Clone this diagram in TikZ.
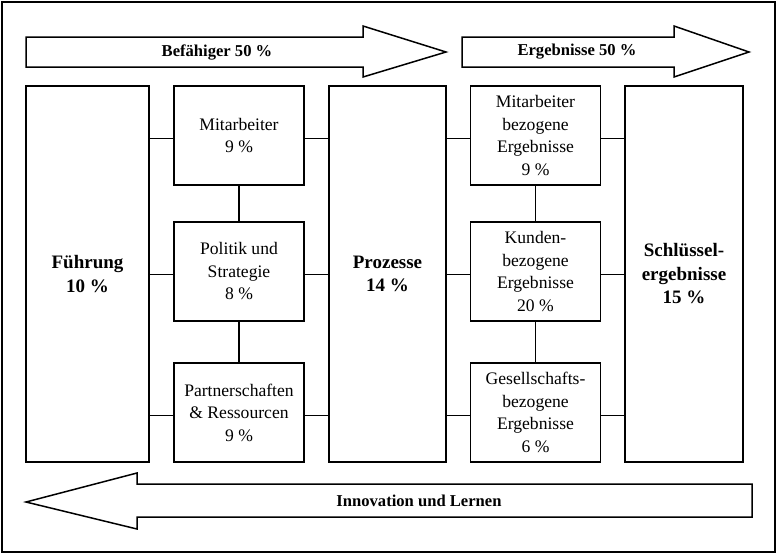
\documentclass[tikz,border=0pt]{standalone}
\usepackage{fontspec}
\setmainfont{Liberation Serif}
\tikzset{basic/.style={draw,line width=1.5pt,align=center,inner sep=2pt}}
\tikzset{crit/.style={basic,minimum width=130pt,minimum height=99pt,
                      font=\fontsize{17.6}{22.5}\selectfont}}
\tikzset{pillar/.style={basic,minimum height=376pt,
                        font=\fontsize{19}{23.5}\selectfont\bfseries}}
\tikzset{conn/.style={line width=1.5pt}}
\tikzset{bigarrow/.style={draw,line width=1.5pt,line join=miter}}
\tikzset{arrowlabel/.style={font=\fontsize{16.6}{19}\selectfont\bfseries}}

\begin{document}
\begin{tikzpicture}[x=1pt,y=-1pt]
    \useasboundingbox (0,0) rectangle (778,555);
    \draw[line width=1.5pt] (2,2) rectangle (775,552);
    % Pillars
    \node[pillar,minimum width=123pt] (fuehr) at (87.5,274) {Führung\\10 \%};
    \node[pillar,minimum width=117pt] (proz) at (387.5,274) {Prozesse\\14 \%};
    \node[pillar,minimum width=118pt] (schl) at (684,274) {Schlüssel-\\ergebnisse\\15 \%};
    % Criteria
    \node[crit] (mit) at (239,135.5) {Mitarbeiter\\9 \%};
    \node[crit] (pol) at (239,271.5) {Politik und\\Strategie\\8 \%};
    \node[crit] (par) at (239,412.5) {Partnerschaften\\\& Ressourcen\\9 \%};
    \node[crit] (mbe) at (535.5,135.5) {Mitarbeiter\\bezogene\\Ergebnisse\\9 \%};
    \node[crit] (kbe) at (535.5,271.5) {Kunden-\\bezogene\\Ergebnisse\\20 \%};
    \node[crit] (gbe) at (535.5,412.5) {Gesellschafts-\\bezogene\\Ergebnisse\\6 \%};
    % Links
    \foreach \l/\r in {mit/mbe,pol/kbe,par/gbe}{%
          \coordinate (\l-y) at ([yshift=-3pt]\l.center);
          \draw[conn] (fuehr.east |- \l-y) -- (\l.west |- \l-y);
          \draw[conn] (\l.east |- \l-y) -- (proz.west |- \l-y);
          \draw[conn] (proz.east |- \l-y) -- (\r.west |- \l-y);
          \draw[conn] (\r.east |- \l-y) -- (schl.west |- \l-y);
        }
    \foreach \a/\b in {mit/pol,pol/par,mbe/kbe,kbe/gbe}{%
          \draw[conn] (\a.south) -- (\b.north);
        }
    % Arrows
    \draw[bigarrow] (26,37) -- (363,37) -- (363,26) -- (446,52)
          -- (363,77) -- (363,67) -- (26,67) -- cycle;
    \node[arrowlabel] (befl) at (217,52) {Befähiger 50 \%};
    \draw[bigarrow] (462,37) -- (674,37) -- (674,26) -- (749,52)
          -- (674,77) -- (674,67) -- (462,67) -- cycle;
    \node[arrowlabel] (ergl) at (577,52) {Ergebnisse 50 \%};
    \draw[bigarrow] (752,484) -- (137,484) -- (137,473) -- (26,502)
          -- (137,529) -- (137,517) -- (752,517) -- cycle;
    \node[arrowlabel] (innl) at (419,501) {Innovation und Lernen};
\end{tikzpicture}
\end{document}
